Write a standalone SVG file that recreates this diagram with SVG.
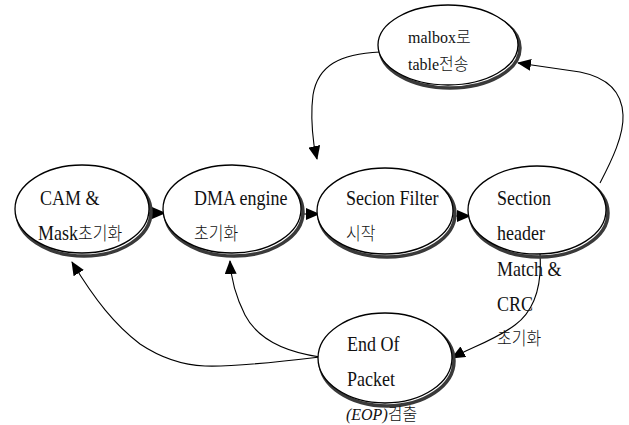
<svg xmlns="http://www.w3.org/2000/svg" width="629" height="425" viewBox="0 0 629 425">
  <style>
    .shadow { fill: none; stroke: #3a3a3a; stroke-width: 3.5; }
    .body { fill: #ffffff; stroke: #000000; stroke-width: 1.3; }
    .lbl { font-family: "Liberation Serif", "Noto Sans CJK KR", serif; font-size: 18px; fill: #111; }
    .sm { font-family: "Liberation Serif", "Noto Sans CJK KR", serif; font-size: 16px; fill: #111; }
    .ko { font-family: "Noto Sans CJK KR", sans-serif; font-size: 16px; font-weight: 300; }
    .edge { fill: none; stroke: #000; stroke-width: 1.1; }
  </style>
  <defs>
    <marker id="arrow" markerUnits="userSpaceOnUse" markerWidth="14" markerHeight="12" viewBox="0 0 14 12" refX="13" refY="6" orient="auto">
      <path d="M0,0 L14,6 L0,12 Z" fill="#000"/>
    </marker>
  </defs>

  <!-- connectors -->
  <g id="connectors">
    <path class="edge" d="M148,213 L165,213" marker-end="url(#arrow)"/>
    <path class="edge" d="M302,214 L319,214" marker-end="url(#arrow)"/>
    <path class="edge" d="M452,216 L470,216" marker-end="url(#arrow)"/>
    <path class="edge" d="M600,183 C 612,160 624,135 623,115 C 622,90 605,77 580,72 L 518,63" marker-end="url(#arrow)"/>
    <path class="edge" d="M380,52 C 340,54 318,65 313,95 C 311,110 312,130 314,145 L 317,159" marker-end="url(#arrow)"/>
    <path class="edge" d="M540,254 C 542,285 535,310 515,325 C 495,340 470,348 452,358" marker-end="url(#arrow)"/>
    <path class="edge" d="M320,357 C 285,352 258,340 245,315 C 235,295 231,280 230,261" marker-end="url(#arrow)"/>
    <path class="edge" d="M320,357 C 270,363 230,367 205,366 C 180,365 158,356 140,344 C 115,325 95,300 72,262" marker-end="url(#arrow)"/>
  </g>

  <g id="cam-mask">
    <ellipse class="shadow" cx="84" cy="212" rx="67" ry="44"/>
    <ellipse class="body" cx="82" cy="209" rx="67" ry="44"/>
    <text class="lbl" transform="translate(40,205) scale(1,1.15)">CAM &amp;</text>
    <text class="lbl" transform="translate(38,240) scale(1,1.15)">Mask<tspan class="ko">초기화</tspan></text>
  </g>

  <g id="dma-engine">
    <ellipse class="shadow" cx="234" cy="212" rx="69" ry="44"/>
    <ellipse class="body" cx="232" cy="209" rx="69" ry="44"/>
    <text class="lbl" transform="translate(194,205) scale(1,1.15)">DMA engine</text>
    <text class="lbl ko" transform="translate(194,240) scale(1,1.15)">초기화</text>
  </g>

  <g id="section-filter">
    <ellipse class="shadow" cx="387" cy="214" rx="68" ry="43"/>
    <ellipse class="body" cx="385" cy="211" rx="68" ry="43"/>
    <text class="lbl" transform="translate(346,205) scale(1,1.15)">Secion Filter</text>
    <text class="lbl ko" transform="translate(346,240) scale(1,1.15)">시작</text>
  </g>

  <g id="section-header">
    <ellipse class="shadow" cx="539" cy="213" rx="69" ry="44"/>
    <ellipse class="body" cx="537" cy="210" rx="69" ry="44"/>
    <text class="lbl" transform="translate(497,205) scale(1,1.15)">Section</text>
    <text class="lbl" transform="translate(497,240) scale(1,1.15)">header</text>
    <text class="lbl" transform="translate(497,276) scale(1,1.15)">Match &amp;</text>
    <text class="lbl" transform="translate(497,311) scale(1,1.15)">CRC</text>
    <text class="lbl ko" transform="translate(497,345) scale(1,1.15)">초기화</text>
  </g>

  <g id="mailbox">
    <ellipse class="shadow" cx="450" cy="48" rx="70" ry="40"/>
    <ellipse class="body" cx="448" cy="45" rx="70" ry="40"/>
    <text class="sm" transform="translate(408,43) scale(1,1.1)">malbox<tspan class="ko" font-size="13">로</tspan></text>
    <text class="sm" transform="translate(408,70) scale(1,1.1)">table<tspan class="ko" font-size="15">전송</tspan></text>
  </g>

  <g id="end-of-packet">
    <ellipse class="shadow" cx="387" cy="361" rx="67" ry="45"/>
    <ellipse class="body" cx="385" cy="358" rx="67" ry="45"/>
    <text class="lbl" transform="translate(347,351) scale(1,1.15)">End Of</text>
    <text class="lbl" transform="translate(347,386) scale(1,1.15)">Packet</text>
    <text class="sm" font-size="15" transform="translate(346,420) scale(1,1.1)"><tspan font-style="italic">(EOP)</tspan><tspan class="ko" font-size="13">검출</tspan></text>
  </g>
</svg>
